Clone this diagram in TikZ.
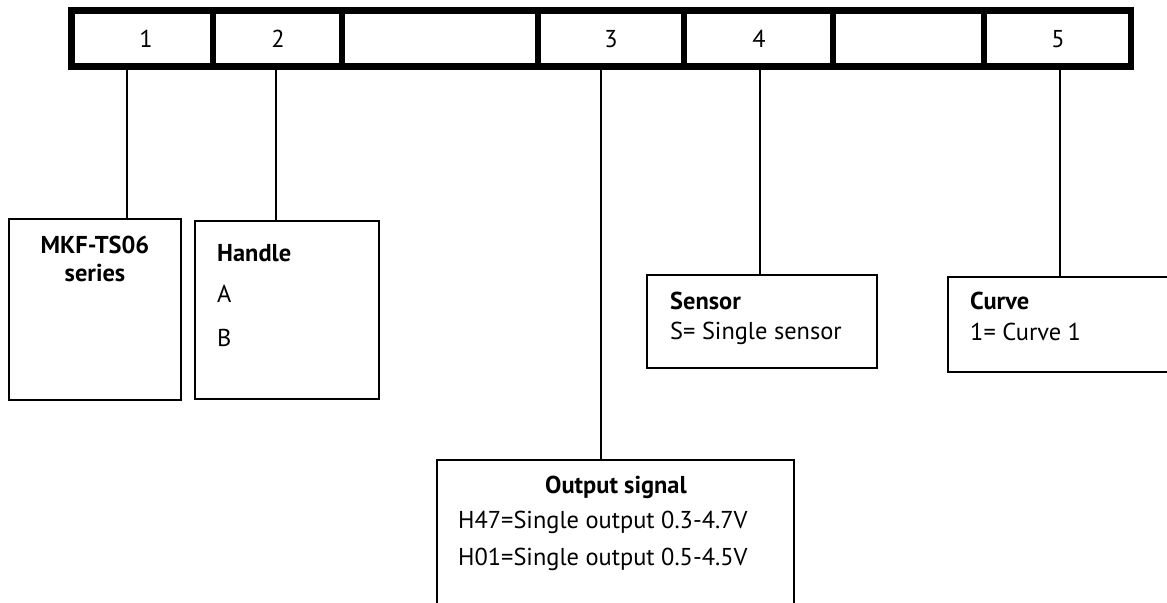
\documentclass[tikz,border=0pt]{standalone}
\usepackage{fontspec}
\setmainfont{PT Sans}
\begin{document}
\begin{tikzpicture}[x=1bp,y=-1bp,
  cell/.style={draw,line width=6.5bp,minimum height=56bp,inner sep=0pt,anchor=center},
  box/.style={draw,line width=2bp,inner sep=0pt},
  conn/.style={line width=2bp},
  txt/.style={inner sep=0pt,font=\fontsize{24.5}{29}\selectfont},
  bold/.style={txt,font=\fontsize{24.5}{29}\selectfont\bfseries}]
\useasboundingbox (0,0) rectangle (1167,603);
\begin{scope}
\clip (0,0) rectangle (1167,603);
% top bar cells
\node[cell,minimum width=141.5bp] (c1) at (142.25,38.5) {};
\node[cell,minimum width=129bp] (c2) at (277.5,38.5) {};
\node[cell,minimum width=196bp] (c3) at (440,38.5) {};
\node[cell,minimum width=146bp] (c4) at (611,38.5) {};
\node[cell,minimum width=149bp] (c5) at (758.5,38.5) {};
\node[cell,minimum width=151bp] (c6) at (908.5,38.5) {};
\node[cell,minimum width=147bp] (c7) at (1057.5,38.5) {};
\node[txt,anchor=base] (l1) at (146,48) {1};
\node[txt,anchor=base] (l2) at (278,48) {2};
\node[txt,anchor=base] (l3) at (611,48) {3};
\node[txt,anchor=base] (l4) at (759,48) {4};
\node[txt,anchor=base] (l5) at (1058,48) {5};
% boxes
\node[box,minimum width=172bp,minimum height=181bp] (b1) at (95,309.5) {};
\node[box,minimum width=184bp,minimum height=178bp] (b2) at (287,310) {};
\node[box,minimum width=357bp,minimum height=200bp] (b3) at (615.5,560) {};
\node[box,minimum width=230bp,minimum height=93bp] (b4) at (762,321.5) {};
\node[box,minimum width=252bp,minimum height=95bp] (b5) at (1074,324.5) {};
% connectors
\coordinate (t1) at (127,66.5);
\coordinate (t2) at (276,66.5);
\coordinate (t3) at (601,66.5);
\coordinate (t4) at (760,66.5);
\coordinate (t5) at (1060,66.5);
\draw[conn] (t1) -- (t1 |- b1.north);
\draw[conn] (t2) -- (t2 |- b2.north);
\draw[conn] (t3) -- (t3 |- b3.north);
\draw[conn] (t4) -- (t4 |- b4.north);
\draw[conn] (t5) -- (t5 |- b5.north);
% texts
\node[bold,anchor=base] (m1) at (95,254) {MKF-TS06};
\node[bold,anchor=base] (m2) at (95,282) {series};
\node[bold,anchor=base west] (h0) at (217,262) {Handle};
\node[txt,anchor=base west] (h1) at (217,303) {A};
\node[txt,anchor=base west] (h2) at (217,347) {B};
\node[bold,anchor=base] (o0) at (616,493) {Output signal};
\node[txt,anchor=base west] (o1) at (458,528) {H47=Single output 0.3-4.7V};
\node[txt,anchor=base west] (o2) at (458,565) {H01=Single output 0.5-4.5V};
\node[bold,anchor=base west] (s0) at (670,310) {Sensor};
\node[txt,anchor=base west] (s1) at (670,340) {S= Single sensor};
\node[bold,anchor=base west] (v0) at (970,310) {Curve};
\node[txt,anchor=base west] (v1) at (970,341) {1= Curve 1};
\end{scope}
\end{tikzpicture}
\end{document}
